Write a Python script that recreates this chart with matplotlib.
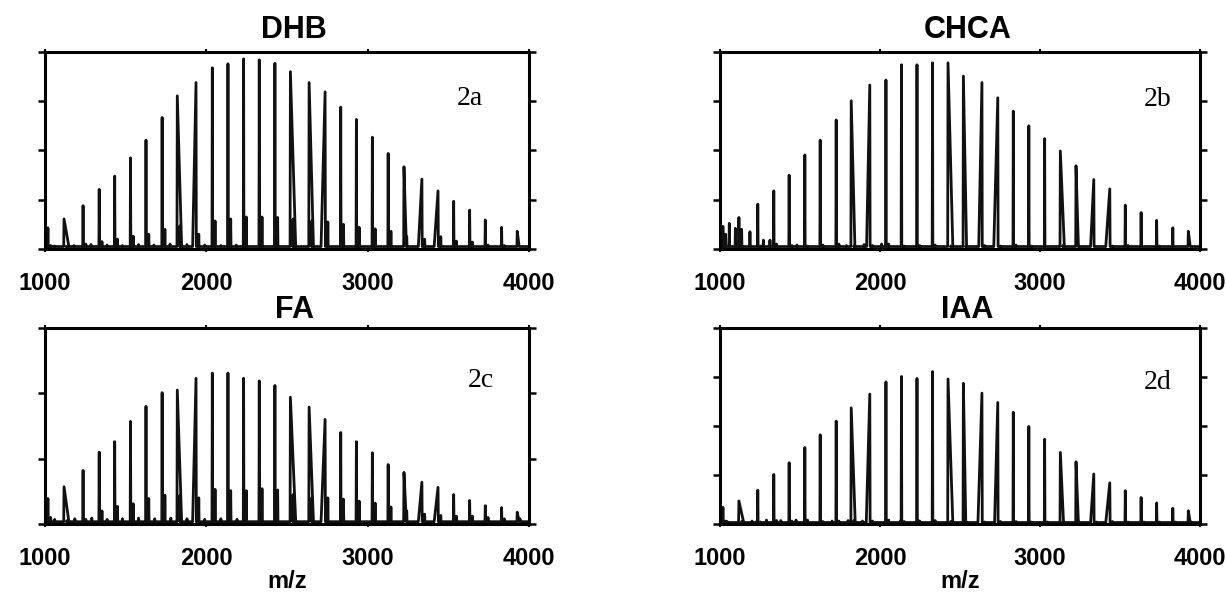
import matplotlib.pyplot as plt

# oligomer peak positions (m/z), shared by all four matrices
MZ = [1018, 1118, 1236, 1336, 1432, 1530, 1626, 1726, 1820, 1936,
      2037, 2134, 2231, 2328, 2425, 2521, 2637, 2736, 2833, 2930,
      3029, 3127, 3225, 3336, 3436, 3533, 3632, 3729, 3830, 3927]
ADDUCT_SHIFT = 17

# main peak intensities (arbitrary units, per panel)
DHB_H = [0.43, 0.61, 0.88, 1.21, 1.48, 1.85, 2.21, 2.67, 3.11, 3.38,
         3.68, 3.76, 3.86, 3.84, 3.77, 3.60, 3.38, 3.19, 2.88, 2.63,
         2.27, 1.94, 1.67, 1.42, 1.18, 0.97, 0.79, 0.59, 0.44, 0.36]
CHCA_H = [0.46, 0.64, 0.91, 1.18, 1.50, 1.91, 2.21, 2.62, 3.01, 3.33,
          3.43, 3.74, 3.74, 3.78, 3.78, 3.51, 3.38, 3.07, 2.80, 2.50,
          2.24, 1.99, 1.69, 1.41, 1.22, 0.89, 0.74, 0.58, 0.43, 0.36]
FA_H = [0.39, 0.57, 0.82, 1.10, 1.26, 1.57, 1.80, 2.01, 2.05, 2.23,
        2.31, 2.31, 2.23, 2.19, 2.12, 1.94, 1.79, 1.60, 1.40, 1.26,
        1.09, 0.91, 0.79, 0.64, 0.56, 0.45, 0.36, 0.28, 0.25, 0.18]
IAA_H = [0.34, 0.47, 0.69, 1.01, 1.25, 1.56, 1.82, 2.10, 2.37, 2.65,
         2.90, 3.01, 2.97, 3.11, 2.96, 2.87, 2.67, 2.48, 2.28, 1.99,
         1.73, 1.46, 1.27, 1.02, 0.84, 0.68, 0.54, 0.43, 0.32, 0.27]

# peak tailing in m/z (+ right side, - left side, 0 sharp)
DHB_TAIL = [0, 30, 0, 0, 0, 0, 0, 0, 27, -21, 0, 0, 0, 0, 0,
            33, 27, -25, 0, 0, 0, 0, 15, -22, -24, 0, 0, 0, 0, 12]
CHCA_TAIL = [0, 0, 0, 0, 0, 0, 0, 0, 23, -20, 0, 0, 0, 0, 30,
             20, -20, -25, 0, 0, 0, 25, 15, -20, -25, 0, 0, 0, 0, 12]
FA_TAIL = [0, 30, 0, 0, 0, 0, 0, 0, 27, -21, 0, 0, 0, 0, 0,
           33, 27, -25, 0, 0, 0, 0, 15, -22, -24, 0, 0, 0, 0, 12]
IAA_TAIL = [0, 30, 0, 0, 0, 0, 0, 0, 25, -22, 0, 0, 0, 0, 30,
            15, -25, -20, 0, 0, 0, 20, 15, -20, -25, 0, 0, 0, 0, 12]

# cation adduct peaks (+17 m/z of each main peak)
DHB_ADD = [0.07, 0.05, 0.10, 0.15, 0.20, 0.26, 0.30, 0.40, 0.47, 0.30,
           0.57, 0.61, 0.65, 0.65, 0.64, 0.61, 0.57, 0.55, 0.50, 0.44,
           0.41, 0.36, 0.25, 0.20, 0.25, 0.16, 0.14, 0.08, 0.07, 0.05]
CHCA_ADD = [0.30, 0.08, 0.06, 0.10, 0.07, 0.06, 0.08, 0.10, 0.06, 0.07,
            0.10, 0.06, 0.07, 0.08, 0.06, 0.05, 0.07, 0.06, 0.08, 0.06,
            0.05, 0.07, 0.06, 0.05, 0.06, 0.07, 0.05, 0.06, 0.05, 0.05]
FA_ADD = [0.10, 0.05, 0.07, 0.20, 0.27, 0.31, 0.39, 0.44, 0.44, 0.40,
          0.53, 0.51, 0.51, 0.54, 0.52, 0.45, 0.40, 0.40, 0.38, 0.35,
          0.32, 0.26, 0.20, 0.15, 0.13, 0.12, 0.12, 0.10, 0.08, 0.08]
IAA_ADD = [0.06, 0.05, 0.04, 0.07, 0.06, 0.08, 0.05, 0.06, 0.07, 0.06,
           0.08, 0.05, 0.06, 0.07, 0.05, 0.04, 0.04, 0.05, 0.05, 0.04,
           0.04, 0.05, 0.04, 0.04, 0.05, 0.04, 0.04, 0.04, 0.04, 0.04]

# other small peaks (m/z, intensity)
DHB_EXTRA_MZ = [1060, 1180, 1285, 1385, 1480, 1580, 1675, 1775, 1880, 1990, 2090, 2185]
DHB_EXTRA_H = [0.06, 0.07, 0.09, 0.08, 0.07, 0.09, 0.08, 0.10, 0.09, 0.08, 0.07, 0.08]
CHCA_EXTRA_MZ = [1003, 1058, 1096, 1135, 1187, 1271, 1312, 1480, 1735, 1790, 1900, 2010]
CHCA_EXTRA_H = [0.49, 0.52, 0.42, 0.40, 0.35, 0.18, 0.18, 0.08, 0.10, 0.07, 0.09, 0.10]
FA_EXTRA_MZ = [1060, 1185, 1290, 1385, 1480, 1580, 1680, 1780, 1880, 1990, 2090, 2190]
FA_EXTRA_H = [0.07, 0.08, 0.09, 0.07, 0.08, 0.09, 0.08, 0.09, 0.08, 0.07, 0.08, 0.07]
IAA_EXTRA_MZ = [1045, 1200, 1230, 1290, 1380, 1475, 1700, 1800, 1890, 2130, 2240, 2330]
IAA_EXTRA_H = [0.05, 0.06, 0.06, 0.08, 0.07, 0.08, 0.06, 0.07, 0.06, 0.07, 0.06, 0.06]

PANELS = ["DHB", "CHCA", "FA", "IAA"]
TAGS = ["2a", "2b", "2c", "2d"]
X_TICKS = [1000, 2000, 3000, 4000]


def spectrum(main_h, tails, add_h, extra_mz, extra_h, base):
    peaks = [(m, h, t) for m, h, t in zip(MZ, main_h, tails)]
    peaks += [(m + ADDUCT_SHIFT, h, 0) for m, h in zip(MZ, add_h)]
    peaks += [(m, h, 0) for m, h in zip(extra_mz, extra_h)]
    peaks.sort()
    xs, ys = [1000], [base]
    for m, h, t in peaks:
        left = m + t if t < 0 else m - 2
        right = m + t if t > 0 else m + 2
        xs += [left, m, right]
        ys += [base, h, base]
    xs.append(4000)
    ys.append(base)
    return xs, ys


data = {
    "DHB": (DHB_H, DHB_TAIL, DHB_ADD, DHB_EXTRA_MZ, DHB_EXTRA_H, 0.05, 4),
    "CHCA": (CHCA_H, CHCA_TAIL, CHCA_ADD, CHCA_EXTRA_MZ, CHCA_EXTRA_H, 0.05, 4),
    "FA": (FA_H, FA_TAIL, FA_ADD, FA_EXTRA_MZ, FA_EXTRA_H, 0.035, 3),
    "IAA": (IAA_H, IAA_TAIL, IAA_ADD, IAA_EXTRA_MZ, IAA_EXTRA_H, 0.03, 4),
}
tag_pos = {"DHB": (3554, 3.05), "CHCA": (3646, 3.03), "FA": (3620, 2.19), "IAA": (3646, 2.88)}
boxes = {
    "DHB": [0.0367, 0.5794, 0.3948, 0.3328],
    "CHCA": [0.5873, 0.5794, 0.3915, 0.3328],
    "FA": [0.0367, 0.1149, 0.3948, 0.3311],
    "IAA": [0.5873, 0.1149, 0.3915, 0.3311],
}

fig = plt.figure(figsize=(12.26, 5.92), dpi=100)
for name, tag in zip(PANELS, TAGS):
    h, tl, ad, emz, eh, base, ymax = data[name]
    ax = fig.add_axes(boxes[name])
    xs, ys = spectrum(h, tl, ad, emz, eh, base)
    ax.plot(xs, ys, color="#111111", lw=2.0)
    ax.set_xlim(1000, 4000)
    ax.set_ylim(0, ymax)
    ax.set_xticks(X_TICKS)
    ax.set_xticklabels([str(t) for t in X_TICKS], fontsize=17,
                       fontweight="bold", family="Liberation Sans")
    ax.set_yticks(range(ymax + 1))
    ax.tick_params(axis="y", direction="out", length=5, width=1.8,
                   left=True, right=True, labelleft=False)
    ax.tick_params(axis="x", direction="out", length=2.5, width=1.5,
                   top=True, bottom=True, pad=14)
    for s in ax.spines.values():
        s.set_linewidth(2.2)
    title_y = 1.07 if name in ("DHB", "CHCA") else 1.05
    ax.text(0.515, title_y, name, transform=ax.transAxes, ha="center",
            va="baseline", fontsize=22, fontweight="bold", family="Liberation Sans")
    ax.text(tag_pos[name][0], tag_pos[name][1], tag, ha="left", va="center",
            fontsize=20, family="Liberation Serif")
    if name in ("FA", "IAA"):
        ax.set_xlabel("m/z", fontsize=17, fontweight="bold",
                      family="Liberation Sans", labelpad=0)

fig.savefig("out.png", dpi=100)
